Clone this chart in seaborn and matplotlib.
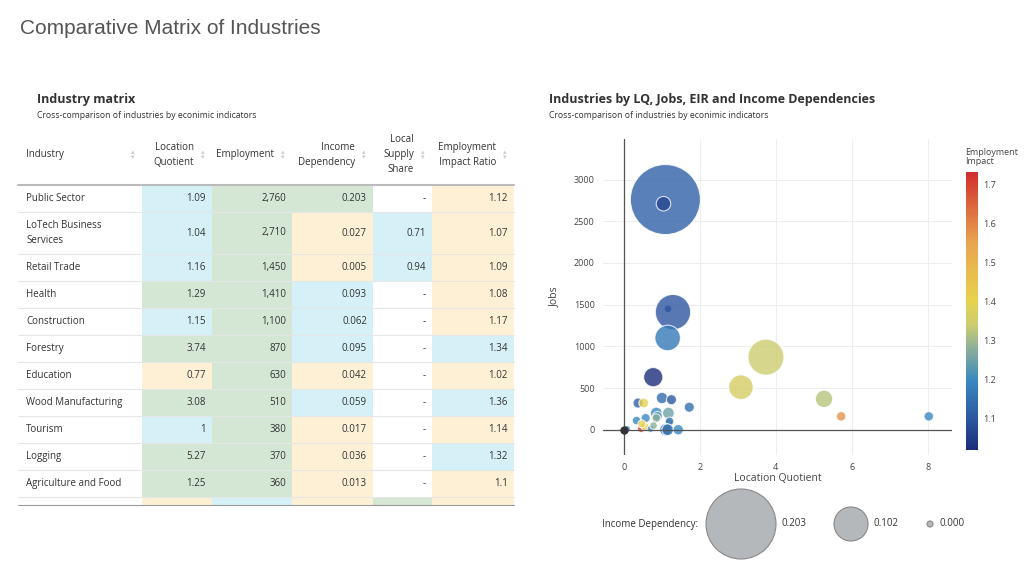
import numpy as np
import pandas as pd
import matplotlib
matplotlib.use("Agg")
import matplotlib.pyplot as plt
from matplotlib.colors import LinearSegmentedColormap, Normalize
from matplotlib.patches import Rectangle, Circle
import seaborn as sns

sns.set_style("white")
plt.rcParams['font.family'] = ['Open Sans', 'DejaVu Sans']

# table data
industries = ["Public Sector", "LoTech Business\nServices", "Retail Trade", "Health", "Construction",
              "Forestry", "Education", "Wood Manufacturing", "Tourism", "Logging", "Agriculture and Food"]
lq = ["1.09", "1.04", "1.16", "1.29", "1.15", "3.74", "0.77", "3.08", "1", "5.27", "1.25"]
employment = ["2,760", "2,710", "1,450", "1,410", "1,100", "870", "630", "510", "380", "370", "360"]
income_dep = ["0.203", "0.027", "0.005", "0.093", "0.062", "0.095", "0.042", "0.059", "0.017", "0.036", "0.013"]
local_supply = ["-", "0.71", "0.94", "-", "-", "-", "-", "-", "-", "-", "-"]
eir = ["1.12", "1.07", "1.09", "1.08", "1.17", "1.34", "1.02", "1.36", "1.14", "1.32", "1.1"]
# cell shading: b=blue, g=green, y=beige, w=white
lq_shade = list("bbbgbgygbgg")
emp_shade = list("ggggggggggg")
inc_shade = list("gyybbbybyyy")
loc_shade = list("wbbwwwwwwww")
eir_shade = list("yyyyybybyby")

# bubble data
bub_lq = [1.09, 1.04, 1.16, 1.29, 1.15, 3.74, 0.77, 3.08, 1.0, 5.27, 1.25,
          0.08, 0.45, 0.55, 0.33, 0.57, 0.85, 0.88, 0.85, 1.17, 1.18, 1.2, 1.13, 1.1, 1.15,
          1.43, 0.7, 0.78, 0.47, 1.72, 0.37, 0.52, 5.72, 8.03]
bub_jobs = [2760, 2710, 1450, 1410, 1100, 870, 630, 510, 380, 370, 360,
            10, 10, 40, 110, 140, 200, 160, 140, 200, 80, 100, 20, 0, 0,
            0, 10, 50, 70, 270, 320, 320, 160, 160]
bub_inc = [0.203, 0.027, 0.005, 0.093, 0.062, 0.095, 0.042, 0.059, 0.017, 0.036, 0.013,
           0.002, 0.004, 0.006, 0.008, 0.01, 0.018, 0.012, 0.008, 0.018, 0.006, 0.008, 0.006, 0.02, 0.018,
           0.014, 0.003, 0.005, 0.006, 0.013, 0.013, 0.012, 0.011, 0.011]
bub_eir = [1.12, 1.07, 1.09, 1.10, 1.17, 1.34, 1.02, 1.36, 1.14, 1.32, 1.10,
           1.2, 1.7, 1.4, 1.2, 1.2, 1.2, 1.22, 1.28, 1.25, 1.28, 1.15, 1.37, 1.18, 1.15,
           1.2, 1.2, 1.28, 1.4, 1.15, 1.12, 1.4, 1.58, 1.2]

BLUE, GREEN, BEIGE = "#d5f0f7", "#d3e7d4", "#fdf0d5"
shade_col = {"b": BLUE, "g": GREEN, "y": BEIGE, "w": "white"}
TXT = "#333333"

fig = plt.figure(figsize=(10.24, 5.67), dpi=100)
ov = fig.add_axes([0, 0, 1, 1])
ov.set_xlim(0, 1024)
ov.set_ylim(567, 0)
ov.axis("off")

ov.text(20, 28, "Comparative Matrix of Industries", fontsize=15, color="#555555", va="center",
        family=["Liberation Sans", "DejaVu Sans"])
ov.text(37, 99, "Industry matrix", fontsize=9, fontweight="bold", color=TXT, va="center")
ov.text(37, 115, "Cross-comparison of industries by econimic indicators", fontsize=6.2, color=TXT, va="center")
ov.text(549, 99, "Industries by LQ, Jobs, EIR and Income Dependencies", fontsize=9, fontweight="bold", color=TXT, va="center")
ov.text(549, 115, "Cross-comparison of industries by econimic indicators", fontsize=6.2, color=TXT, va="center")

# table
xb = [18, 142, 212, 292, 373, 432, 514]
tops = [185, 212, 254, 281, 308, 335, 362, 389, 416, 443, 470, 497]
headers = ["Industry", "Location\nQuotient", "Employment", "Income\nDependency", "Local\nSupply\nShare", "Employment\nImpact Ratio"]
for i, h in enumerate(headers):
    if i == 0:
        ov.text(xb[0] + 8, 155, h, fontsize=7, color=TXT, va="center")
    else:
        ov.text(xb[i + 1] - 18, 155, h, fontsize=7, color=TXT, va="center", ha="right", linespacing=1.5)
    ov.text(xb[i + 1] - 9, 155, "\u25B4\n\u25BE", fontsize=5, color="#cccccc", va="center", ha="center", linespacing=0.6)
cols = [lq, employment, income_dep, local_supply, eir]
shades = [lq_shade, emp_shade, inc_shade, loc_shade, eir_shade]
for r in range(len(industries)):
    y0, y1 = tops[r], tops[r + 1]
    yc = (y0 + y1) / 2
    ov.text(xb[0] + 8, yc, industries[r], fontsize=7, color=TXT, va="center", linespacing=1.6)
    for c in range(5):
        ov.add_patch(Rectangle((xb[c + 1], y0), xb[c + 2] - xb[c + 1], y1 - y0,
                               facecolor=shade_col[shades[c][r]], edgecolor="none"))
        ov.text(xb[c + 2] - 6, yc, cols[c][r], fontsize=7, color=TXT, va="center", ha="right")
    ov.plot([xb[0], xb[-1]], [y1, y1], color="#e6e6e6", lw=0.8)
# partially visible next row
for c, s in enumerate("ybygy"):
    ov.add_patch(Rectangle((xb[c + 1], 497), xb[c + 2] - xb[c + 1], 8, facecolor=shade_col[s], edgecolor="none"))
ov.plot([xb[0], xb[-1]], [185, 185], color="#bbbbbb", lw=1.5)
ov.plot([xb[0], xb[-1]], [505, 505], color="#999999", lw=0.8)

# bubble chart
cmap = LinearSegmentedColormap.from_list("eir", [
    (0.0, "#1b2d7a"), (0.11, "#2d56a0"), (0.25, "#3a88c0"), (0.39, "#9cb890"),
    (0.45, "#cccc70"), (0.54, "#e8d24d"), (0.75, "#e8a450"), (1.0, "#d02e2e")])
norm = Normalize(1.02, 1.73)
df = pd.DataFrame({"lq": bub_lq, "jobs": bub_jobs, "inc": bub_inc, "eir": bub_eir})
df["area"] = ((6 + df["inc"] / 0.203 * 64) * 0.72) ** 2
amin, amax = df["area"].min(), df["area"].max()

ax = fig.add_axes([0.589, 0.198, 0.341, 0.556])
sns.scatterplot(data=df, x="lq", y="jobs", size="area", sizes=(amin, amax), size_norm=(amin, amax),
                hue="eir", palette=cmap, hue_norm=norm, edgecolor="white", linewidth=0.8,
                alpha=0.8, legend=False, ax=ax)
ax.scatter([0], [0], s=25, color="#333333", zorder=5)
ax.set_xlim(-0.55, 8.65)
ax.set_ylim(-300, 3480)
ax.set_xticks([0, 2, 4, 6, 8])
ax.set_yticks([0, 500, 1000, 1500, 2000, 2500, 3000])
ax.grid(True, color="#eeeeee", lw=0.8)
ax.set_axisbelow(True)
ax.axhline(0, color="#555555", lw=0.9, zorder=1)
ax.axvline(0, color="#555555", lw=0.9, zorder=1)
for sp in ax.spines.values():
    sp.set_visible(False)
ax.tick_params(labelsize=6.5, colors="#444444", length=0, pad=6)
ax.set_xlabel("Location Quotient", fontsize=7.5, color="#444444", labelpad=1)
ax.set_ylabel("Jobs", fontsize=7.5, color="#444444", labelpad=10)

cax = fig.add_axes([0.943, 0.206, 0.012, 0.49])
cb = fig.colorbar(plt.cm.ScalarMappable(norm=norm, cmap=cmap), cax=cax)
cb.outline.set_visible(False)
cb.set_ticks([1.1, 1.2, 1.3, 1.4, 1.5, 1.6, 1.7])
cax.tick_params(labelsize=6.5, colors="#444444", length=0)
ov.text(965, 157, "Employment\nImpact", fontsize=6.5, color="#444444", va="center", linespacing=1.1)

# size legend
ov.text(602, 524, "Income Dependency:", fontsize=7, color=TXT, va="center")
for cx, d, lab in [(741, 70, "0.203"), (851, 34, "0.102"), (930, 6, "0.000")]:
    ov.add_patch(Circle((cx, 524), d / 2, facecolor="#b5b8bb", edgecolor="#888888", lw=0.8))
    ov.text(cx + d / 2 + 6, 524, lab, fontsize=7, color=TXT, va="center")

fig.savefig("out.png", dpi=100)
